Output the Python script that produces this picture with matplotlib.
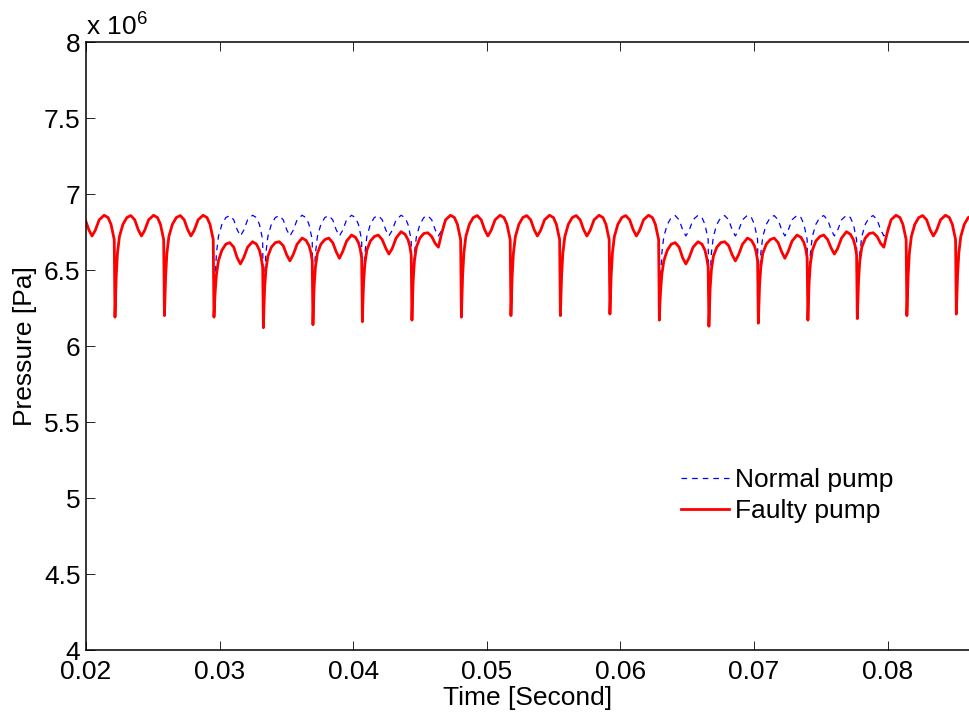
import numpy as np
import matplotlib
matplotlib.use('Agg')
import matplotlib.pyplot as plt

plt.rcParams['font.family'] = ['Liberation Sans', 'DejaVu Sans']
plt.rcParams['font.size'] = 19

# pressure values are in units of 1e6 Pa (axis carries the "x 10^6" multiplier)
# times of the sharp pressure drops (start of every pump cycle)
spike_times = [0.01847, 0.02217, 0.02587, 0.02958, 0.03328, 0.03699, 0.04069,
               0.04440, 0.04810, 0.05181, 0.05551, 0.05922, 0.06292, 0.06663,
               0.07033, 0.07404, 0.07774, 0.08145, 0.08515, 0.08886]

# position inside a cycle (0 = drop, 1 = next drop)
cycle_phase = [0.0, 0.012, 0.025, 0.05, 0.09, 0.16, 0.24, 0.32, 0.40, 0.47,
               0.535, 0.60, 0.68, 0.78, 0.86, 0.92, 0.955, 0.985]

# one cycle of the healthy pump
normal_cycle = [6.19, 6.33, 6.46, 6.61, 6.72, 6.80, 6.845, 6.858, 6.83, 6.765,
                6.724, 6.76, 6.83, 6.86, 6.845, 6.80, 6.745, 6.70]

# bottom of each drop
normal_spike_min = [6.19, 6.19, 6.20, 6.19, 6.20, 6.20, 6.20, 6.20, 6.19, 6.20,
                    6.20, 6.21, 6.20, 6.20, 6.20, 6.20, 6.20, 6.20, 6.21]
faulty_spike_min = [6.19, 6.19, 6.20, 6.19, 6.12, 6.14, 6.16, 6.17, 6.19, 6.20,
                    6.20, 6.21, 6.17, 6.13, 6.15, 6.17, 6.18, 6.20, 6.21]

# the five disturbed cycles of the faulty pump (same phase grid as above)
fault_c1 = [6.19, 6.28, 6.36, 6.47, 6.56, 6.63, 6.67, 6.68, 6.65, 6.58,
            6.54, 6.58, 6.65, 6.686, 6.67, 6.63, 6.58, 6.52]
fault_c2 = [6.12, 6.26, 6.38, 6.50, 6.59, 6.65, 6.68, 6.686, 6.66, 6.60,
            6.56, 6.60, 6.67, 6.71, 6.695, 6.66, 6.62, 6.56]
fault_c3 = [6.14, 6.28, 6.40, 6.52, 6.61, 6.67, 6.70, 6.71, 6.68, 6.62,
            6.577, 6.62, 6.69, 6.73, 6.715, 6.68, 6.64, 6.58]
fault_c4 = [6.16, 6.30, 6.42, 6.54, 6.63, 6.69, 6.72, 6.73, 6.70, 6.645,
            6.605, 6.64, 6.71, 6.752, 6.735, 6.70, 6.66, 6.60]
fault_c5 = [6.17, 6.31, 6.43, 6.56, 6.65, 6.71, 6.74, 6.745, 6.72, 6.675,
            6.65, 6.74, 6.83, 6.86, 6.845, 6.80, 6.745, 6.70]
fault_cycles = [fault_c1, fault_c2, fault_c3, fault_c4, fault_c5]
fault_first_cycle = [3, 12]

xticks = [0.02, 0.03, 0.04, 0.05, 0.06, 0.07, 0.08]
xtick_labels = ['0.02', '0.03', '0.04', '0.05', '0.06', '0.07', '0.08']
yticks = [4, 4.5, 5, 5.5, 6, 6.5, 7, 7.5, 8]
ytick_labels = ['4', '4.5', '5', '5.5', '6', '6.5', '7', '7.5', '8']


def build_series(cycle_values, spike_min):
    ts, ps = [], []
    for i in range(len(spike_times) - 1):
        t0, t1 = spike_times[i], spike_times[i + 1]
        vals = list(cycle_values(i))
        vals[0] = spike_min[i]
        ts.extend(t0 + np.array(cycle_phase) * (t1 - t0))
        ps.extend(vals)
    return np.array(ts), np.array(ps)


def faulty_values(i):
    for start in fault_first_cycle:
        if start <= i < start + len(fault_cycles):
            return fault_cycles[i - start]
    return normal_cycle


t_n, p_n = build_series(lambda i: normal_cycle, normal_spike_min)
t_f, p_f = build_series(faulty_values, faulty_spike_min)

fig = plt.figure(figsize=(9.69, 7.17), dpi=100)
ax = fig.add_axes([86 / 969, 1 - 650 / 717, 1 - 86 / 969, 608 / 717])

ax.plot(t_n, p_n, color='b', lw=0.9, dashes=(4.5, 4), label='Normal pump')
ax.plot(t_f, p_f, color='r', lw=2, label='Faulty pump')

ax.set_xlim(0.02, 0.0861)
ax.set_ylim(4, 8)
ax.set_xticks(xticks)
ax.set_xticklabels(xtick_labels)
ax.set_yticks(yticks)
ax.set_yticklabels(ytick_labels)
ax.tick_params(direction='in', length=6.5, width=0.6, top=True, right=False)
ax.tick_params(axis='x', pad=7.5)
ax.tick_params(axis='y', pad=4)
ax.spines['right'].set_visible(False)
for s in ['left', 'bottom', 'top']:
    ax.spines[s].set_linewidth(1.1)

ax.set_xlabel('Time [Second]', labelpad=1.5)
ax.set_ylabel('Pressure [Pa]', labelpad=5)
fig.text(86 / 969, 1 - 35 / 717, r'x 10$^{\mathregular{6}}$', va='baseline', ha='left')

ax.legend(loc='upper left', bbox_to_anchor=(668 / 969, 1 - 455 / 717),
          bbox_transform=fig.transFigure, frameon=False, borderpad=0,
          handlelength=1.8, handletextpad=0.25, labelspacing=0.25)

fig.savefig('out.png', dpi=100)
